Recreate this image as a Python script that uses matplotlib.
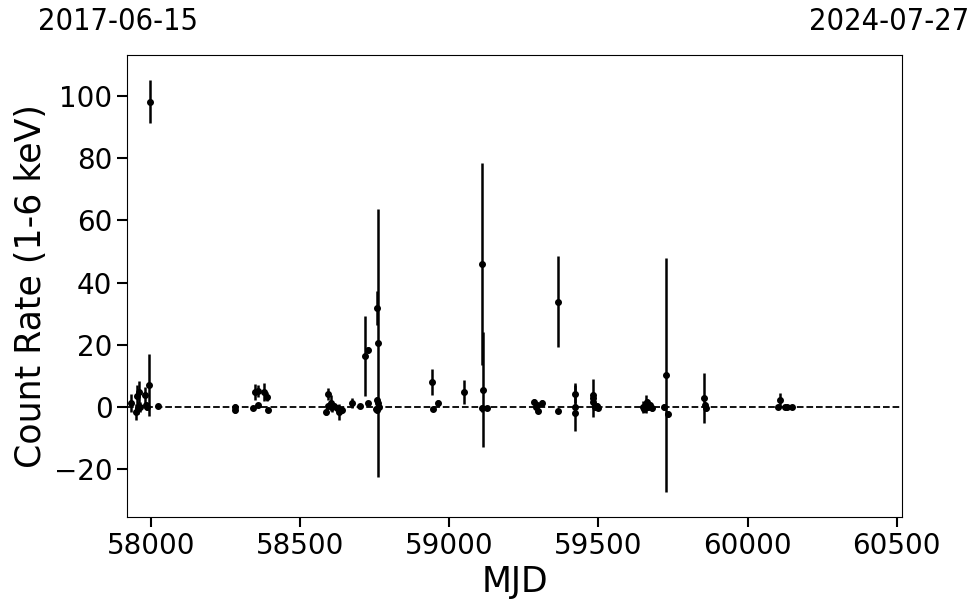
import numpy as np
import matplotlib
matplotlib.use("Agg")
import matplotlib.pyplot as plt
from matplotlib import font_manager

# light curve points: MJD, count rate (1-6 keV), 1-sigma error
mjd = [57932, 57949, 57952, 57959, 57956, 57962, 57979, 57983, 57986, 57993, 57996, 58023,
       58281, 58281, 58341, 58348, 58358, 58358, 58378, 58388, 58392,
       58587, 58593, 58593, 58604, 58607, 58613, 58623, 58630, 58640,
       58673, 58700, 58717, 58727, 58727, 58757, 58760, 58757, 58760, 58757, 58754, 58764,
       58942, 58945, 58962, 59049, 59110, 59113, 59110, 59126,
       59283, 59290, 59293, 59310, 59296, 59364, 59364,
       59421, 59421, 59421, 59481, 59481, 59481, 59488, 59494, 59500,
       59649, 59652, 59659, 59662, 59665, 59672, 59679, 59720, 59726, 59733,
       59854, 59857, 59860, 60102, 60109, 60126, 60132, 60149]
rate = [1.3, -1.6, 3.5, 4.8, -0.3, 0.0, 3.9, 0.6, 0.0, 7.0, 98.2, 0.3,
        0.0, -1.0, -0.3, 4.8, 5.1, 0.6, 4.8, 3.3, -1.0,
        -1.6, 4.2, 0.3, 1.3, 0.0, 0.3, -0.3, -1.6, -1.0,
        1.3, 0.3, 16.4, 18.3, 1.3, 31.8, 20.6, 2.2, 1.3, -1.0, -0.6, 0.0,
        8.0, -0.6, 1.3, 4.8, 46.0, 5.5, -0.5, -0.5,
        1.6, 0.0, 0.6, 1.3, -1.3, 33.8, -1.3,
        4.2, 0.0, -1.9, 2.9, 3.8, 1.6, 0.0, 0.3, -0.3,
        0.0, -0.6, 1.0, 1.5, 0.0, 0.5, -0.3, 0.0, 10.3, -2.3,
        2.9, 0.6, -0.3, 0.0, 2.2, 0.0, 0.0, 0.0]
err = [3.0, 2.5, 3.5, 3.5, 2.0, 1.5, 2.5, 1.0, 1.0, 10.0, 7.0, 0.5,
       1.0, 0.8, 0.5, 2.5, 1.8, 0.8, 3.0, 1.5, 0.5,
       1.0, 2.0, 1.0, 2.5, 1.5, 1.0, 1.0, 2.5, 1.0,
       1.5, 0.5, 13.0, 1.0, 0.5, 5.5, 43.0, 1.0, 1.0, 1.0, 1.0, 0.5,
       4.2, 0.5, 1.0, 3.9, 32.5, 18.5, 1.0, 0.5,
       1.0, 1.0, 1.0, 1.0, 0.5, 14.6, 0.5,
       3.0, 7.7, 1.0, 6.1, 1.0, 1.0, 1.0, 1.0, 0.5,
       2.0, 1.0, 3.0, 1.0, 1.0, 1.0, 1.0, 1.0, 37.5, 1.0,
       8.0, 1.0, 1.0, 0.5, 2.4, 0.3, 0.3, 0.3]

start_mjd, end_mjd = 57919, 60518
start_date, end_date = "2017-06-15", "2024-07-27"

fig = plt.figure(figsize=(9.8, 6.13), dpi=100)
ax = fig.add_axes([0.1296, 0.1566, 0.7908, 0.7537])

ax.errorbar(mjd, rate, yerr=err, fmt='o', color='k', ms=4,
            elinewidth=1.8, capsize=0)
ax.axhline(0, color='k', ls='--', lw=1.3)

ax.set_xlim(start_mjd, end_mjd)
ax.set_ylim(-35.4, 113.2)
ax.set_xticks([58000, 58500, 59000, 59500, 60000, 60500])
ax.set_yticks([-20, 0, 20, 40, 60, 80, 100])
ax.tick_params(axis='both', which='major', labelsize=20, length=7, width=1.5)

ax.set_xlabel("MJD", fontsize=25)
ax.set_ylabel("Count Rate (1-6 keV)", fontsize=25)

# start / end dates above the plot
names = {f.name for f in font_manager.fontManager.ttflist}
fam = 'Liberation Sans Narrow' if 'Liberation Sans Narrow' in names else 'DejaVu Sans'
fig.text(118 / 980, 1 - 21 / 613, start_date, ha='center', va='center',
         fontsize=22, family=fam, fontstretch='condensed')
fig.text(889 / 980, 1 - 21 / 613, end_date, ha='center', va='center',
         fontsize=22, family=fam, fontstretch='condensed')

fig.savefig("out.png", dpi=100)
